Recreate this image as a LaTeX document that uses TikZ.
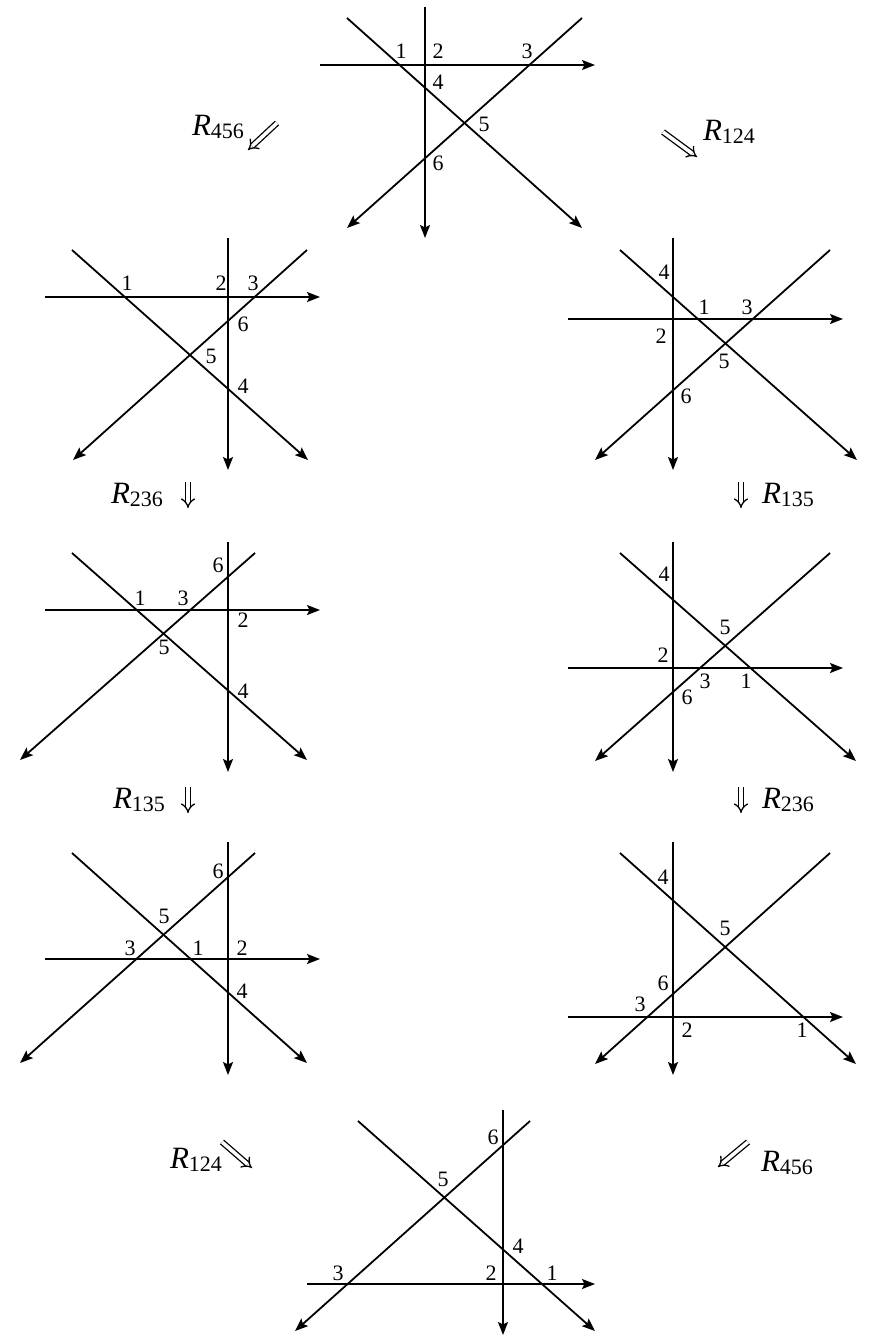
\documentclass[tikz,border=0pt]{standalone}
\usepackage{fontspec}
\setmainfont{Liberation Serif}
\usetikzlibrary{arrows.meta}

\newcommand{\rmove}[1]{{\fontsize{15.5}{17}\selectfont\textit{R}}\raisebox{-0.35ex}{\fontsize{11}{12}\selectfont #1}}

\begin{document}
\begin{tikzpicture}[x=0.5pt,y=-0.5pt,
    ln/.style={line width=0.9pt,-{Stealth[length=6.5pt,width=5pt,inset=1.2pt]}},
    lab/.style={inner sep=0pt,font=\fontsize{11}{12}\selectfont},
    mv/.style={inner sep=0pt},
    dbl/.style={double,double distance=1.8pt,line width=0.65pt,-{Implies[length=4pt]}}]
\useasboundingbox (0,0) rectangle (871,1343);

% start
\draw[ln] (425,7) -- (425,238);
\draw[ln] (320,65) -- (595,65);
\draw[ln] (347,18) -- (582,228);
\draw[ln] (582,18) -- (347,228);
\foreach \t/\x/\y in {1/401/51,2/438/51,3/527/51,4/438/82,5/484/124,6/438/163}
    \node[lab] (s-\t) at (\x,\y) {\t};

% left column
\draw[ln] (228,238) -- (228,470);
\draw[ln] (45,297) -- (320,297);
\draw[ln] (72,250) -- (308,460);
\draw[ln] (307,250) -- (73,460);
\foreach \t/\x/\y in {1/127/283,2/221/283,3/253/283,6/243/324,5/211/356,4/243/386}
    \node[lab] (l1-\t) at (\x,\y) {\t};

\draw[ln] (228,542) -- (228,772);
\draw[ln] (45,610) -- (320,610);
\draw[ln] (72,553) -- (307,760);
\draw[ln] (255,553) -- (20,760);
\foreach \t/\x/\y in {6/218/565,1/140/598,3/183/598,2/243/620,5/164/647,4/243/691}
    \node[lab] (l2-\t) at (\x,\y) {\t};

\draw[ln] (228,842) -- (228,1075);
\draw[ln] (45,959) -- (320,959);
\draw[ln] (72,853) -- (307,1063);
\draw[ln] (255,853) -- (20,1063);
\foreach \t/\x/\y in {6/218/871,5/164/916,3/130/948,1/198/948,2/242/948,4/242/991}
    \node[lab] (l3-\t) at (\x,\y) {\t};

% right column
\draw[ln] (673,238) -- (673,470);
\draw[ln] (568,319) -- (843,319);
\draw[ln] (620,250) -- (857,460);
\draw[ln] (830,250) -- (595,460);
\foreach \t/\x/\y in {4/664/272,1/704/307,3/747/307,2/661/336,5/724/361,6/686/396}
    \node[lab] (r1-\t) at (\x,\y) {\t};

\draw[ln] (673,542) -- (673,772);
\draw[ln] (568,668) -- (843,668);
\draw[ln] (620,553) -- (856,761);
\draw[ln] (830,553) -- (595,761);
\foreach \t/\x/\y in {4/664/574,5/725/627,2/663/655,3/705/681,1/746/681,6/687/697}
    \node[lab] (r2-\t) at (\x,\y) {\t};

\draw[ln] (673,842) -- (673,1075);
\draw[ln] (568,1017) -- (843,1017);
\draw[ln] (620,853) -- (856,1064);
\draw[ln] (830,853) -- (595,1064);
\foreach \t/\x/\y in {4/663/877,5/725/928,6/663/983,3/640/1004,2/687/1030,1/802/1030}
    \node[lab] (r3-\t) at (\x,\y) {\t};

% end
\draw[ln] (503,1110) -- (503,1335);
\draw[ln] (307,1284) -- (595,1284);
\draw[ln] (358,1121) -- (595,1331);
\draw[ln] (530,1121) -- (295,1331);
\foreach \t/\x/\y in {6/493/1137,5/443/1179,4/518/1246,3/338/1273,2/491/1273,1/552/1273}
    \node[lab] (e-\t) at (\x,\y) {\t};

% moves
\node[mv] (m1) at (218,127) {\rmove{456}};
\coordinate (m1a) at (277,123); \coordinate (m1b) at (248,150);
\draw[dbl] (m1a) -- (m1b);
\node[mv] (m2) at (729,132) {\rmove{124}};
\coordinate (m2a) at (663,132); \coordinate (m2b) at (697,157);
\draw[dbl] (m2a) -- (m2b);
\node[mv] (m3) at (137,495) {\rmove{236}};
\coordinate (m3a) at (188,482); \coordinate (m3b) at (188,508);
\draw[dbl] (m3a) -- (m3b);
\node[mv] (m4) at (788,495) {\rmove{135}};
\coordinate (m4a) at (741,482); \coordinate (m4b) at (741,508);
\draw[dbl] (m4a) -- (m4b);
\node[mv] (m5) at (139,800) {\rmove{135}};
\coordinate (m5a) at (188,787); \coordinate (m5b) at (188,813);
\draw[dbl] (m5a) -- (m5b);
\node[mv] (m6) at (788,800) {\rmove{236}};
\coordinate (m6a) at (741,787); \coordinate (m6b) at (741,813);
\draw[dbl] (m6a) -- (m6b);
\node[mv] (m7) at (196,1160) {\rmove{124}};
\coordinate (m7a) at (222,1142); \coordinate (m7b) at (252,1168);
\draw[dbl] (m7a) -- (m7b);
\node[mv] (m8) at (787,1163) {\rmove{456}};
\coordinate (m8a) at (748,1142); \coordinate (m8b) at (718,1167);
\draw[dbl] (m8a) -- (m8b);
\end{tikzpicture}
\end{document}
